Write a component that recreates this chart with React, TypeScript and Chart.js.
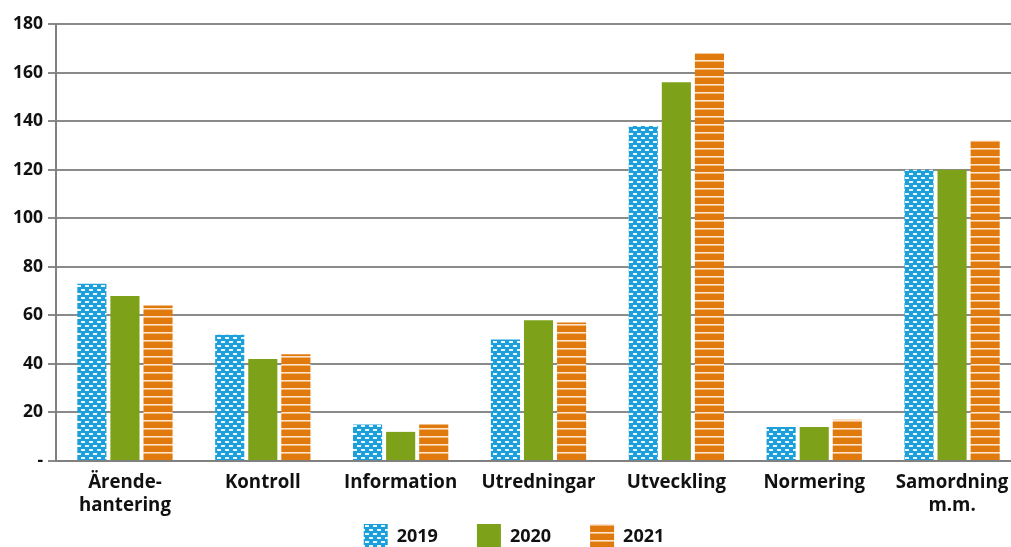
import React, { useEffect, useRef } from "react";
import { Chart, registerables } from "chart.js";

Chart.register(...registerables);

const categories: (string | string[])[] = [
  ["Ärende-", "hantering"],
  "Kontroll",
  "Information",
  "Utredningar",
  "Utveckling",
  "Normering",
  ["Samordning", "m.m."],
];
const values2019 = [73, 52, 15, 50, 138, 14, 120];
const values2020 = [68, 42, 12, 58, 156, 14, 120];
const values2021 = [64, 44, 15, 57, 168, 17, 132];
const seriesLabels = ["2019", "2020", "2021"];
const yTicks = [0, 20, 40, 60, 80, 100, 120, 140, 160, 180];

const FONT = "'Open Sans', 'Noto Sans', sans-serif";

function bluePattern(): CanvasPattern | string {
  const c = document.createElement("canvas");
  c.width = 8;
  c.height = 8;
  const ctx = c.getContext("2d");
  if (!ctx) return "#1d9fdb";
  ctx.fillStyle = "#1d9fdb";
  ctx.fillRect(0, 0, 8, 8);
  ctx.fillStyle = "rgba(255,255,255,0.9)";
  ctx.fillRect(1, 1, 4, 2);
  ctx.fillRect(5, 5, 3, 2);
  ctx.fillRect(0, 5, 1, 2);
  return ctx.createPattern(c, "repeat") || "#1d9fdb";
}

function orangePattern(): CanvasPattern | string {
  const c = document.createElement("canvas");
  c.width = 8;
  c.height = 8;
  const ctx = c.getContext("2d");
  if (!ctx) return "#e07a0c";
  ctx.fillStyle = "#e07a0c";
  ctx.fillRect(0, 0, 8, 8);
  ctx.fillStyle = "rgba(255,240,225,0.9)";
  ctx.fillRect(0, 4, 8, 1.6);
  return ctx.createPattern(c, "repeat") || "#e07a0c";
}

const legendPlugin = {
  id: "customLegend",
  afterDraw(chart: any) {
    const ctx = chart.ctx as CanvasRenderingContext2D;
    const boxW = 24;
    const boxH = 23;
    const gap = 9;
    const spacing = 39;
    const centerX = 514;
    const top = 524;
    ctx.save();
    ctx.font = `bold 18px ${FONT}`;
    const items = chart.data.datasets.map((ds: any) => ({
      label: ds.label,
      fill: ds.backgroundColor,
      w: boxW + gap + ctx.measureText(ds.label).width,
    }));
    const total = items.reduce((s: number, it: any) => s + it.w, 0) + spacing * (items.length - 1);
    let x = centerX - total / 2;
    ctx.textBaseline = "middle";
    ctx.textAlign = "left";
    for (const it of items) {
      ctx.fillStyle = it.fill;
      ctx.fillRect(x, top, boxW, boxH);
      ctx.fillStyle = "#111";
      ctx.fillText(it.label, x + boxW + gap, top + boxH / 2 + 1);
      x += it.w + spacing;
    }
    ctx.restore();
  },
};

export default function App() {
  const ref = useRef<HTMLCanvasElement | null>(null);
  useEffect(() => {
    if (!ref.current) return;
    const chart = new Chart(ref.current, {
      type: "bar",
      data: {
        labels: categories,
        datasets: [
          { label: seriesLabels[0], data: values2019, backgroundColor: bluePattern() as any },
          { label: seriesLabels[1], data: values2020, backgroundColor: "#7ea11a" },
          { label: seriesLabels[2], data: values2021, backgroundColor: orangePattern() as any },
        ],
      },
      plugins: [legendPlugin],
      options: {
        animation: false,
        responsive: false,
        maintainAspectRatio: false,
        layout: { padding: { top: 24, right: 0, left: 8, bottom: 20 } },
        datasets: { bar: { categoryPercentage: 0.72, barPercentage: 0.88 } },
        plugins: {
          tooltip: { enabled: false },
          legend: { display: false },
        },
        scales: {
          x: {
            grid: { display: false, drawTicks: false },
            border: { display: true, color: "#808080", width: 2 },
            ticks: {
              color: "#111",
              padding: 10,
              maxRotation: 0,
              autoSkip: false,
              font: { family: FONT, size: 18.7, weight: "bold", lineHeight: 1.23 },
            },
          },
          y: {
            min: 0,
            max: 180,
            afterBuildTicks: (axis: any) => {
              axis.ticks = yTicks.map((v) => ({ value: v }));
            },
            grid: {
              color: "#8a8a8a",
              lineWidth: 2,
              drawTicks: true,
              tickLength: 8,
            },
            border: { display: true, color: "#808080", width: 2 },
            ticks: {
              color: "#111",
              padding: 5,
              font: { family: FONT, size: 17.5, weight: "bold" },
              callback: (v: any) => (Number(v) === 0 ? "-" : String(v)),
            },
          },
        },
      },
    });
    return () => chart.destroy();
  }, []);
  return (
    <div
      style={{
        position: "fixed",
        left: 0,
        top: 0,
        width: 1011,
        height: 547,
        overflow: "hidden",
        background: "#fff",
      }}
    >
      <canvas ref={ref} width={1021} height={547} style={{ width: 1021, height: 547, display: "block" }} />
    </div>
  );
}
